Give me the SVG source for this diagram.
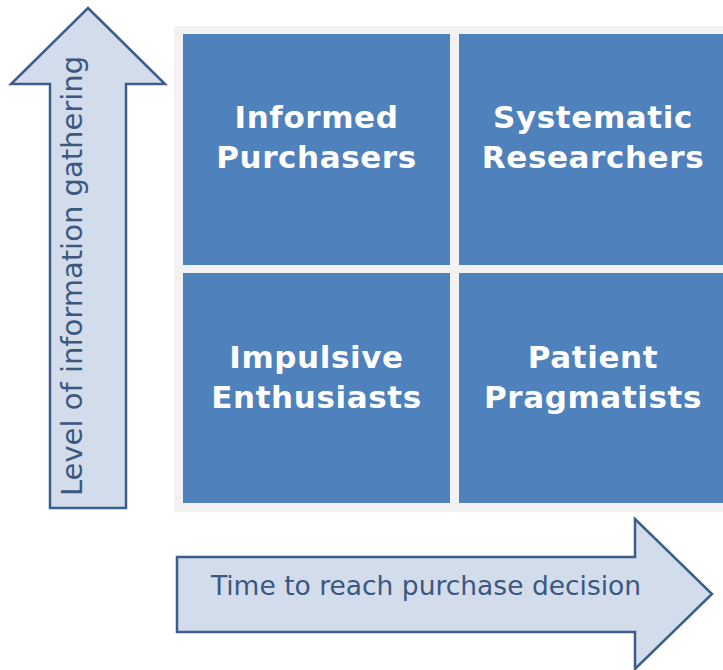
<svg xmlns="http://www.w3.org/2000/svg" width="723" height="670" viewBox="0 0 723 670">
<style>
.arrow{fill:#d3dcea;stroke:#3b5e8c;stroke-width:2.5;stroke-linejoin:miter}
.lbl{font-family:"DejaVu Sans","Liberation Sans",sans-serif;fill:#3a5880}
.cell{fill:#4f81bd}
.ct{font-family:"DejaVu Sans","Liberation Sans",sans-serif;font-weight:bold;font-size:31px;letter-spacing:0.6px;fill:#ffffff;text-anchor:middle}
</style>
<rect x="0" y="0" width="723" height="670" fill="#ffffff"/>
<rect x="174" y="26" width="560" height="486" fill="#f2f2f2"/>
<g id="informed-purchasers">
<rect class="cell" x="183" y="34" width="267" height="231"/>
<text class="ct" x="316.5" y="128">Informed</text>
<text class="ct" x="316.5" y="168">Purchasers</text>
</g>
<g id="systematic-researchers">
<rect class="cell" x="459" y="34" width="268" height="231"/>
<text class="ct" x="593" y="128">Systematic</text>
<text class="ct" x="593" y="168">Researchers</text>
</g>
<g id="impulsive-enthusiasts">
<rect class="cell" x="183" y="273" width="267" height="230"/>
<text class="ct" x="316.5" y="368">Impulsive</text>
<text class="ct" x="316.5" y="408">Enthusiasts</text>
</g>
<g id="patient-pragmatists">
<rect class="cell" x="459" y="273" width="268" height="230"/>
<text class="ct" x="593" y="368">Patient</text>
<text class="ct" x="593" y="408">Pragmatists</text>
</g>
<g id="connectors">
<g id="axis-y">
<polygon class="arrow" points="88,8 165,84 126,84 126,508 50,508 50,84 11,84"/>
<text class="lbl" font-size="29" text-anchor="middle" transform="translate(82,276) rotate(-90)">Level of information gathering</text>
</g>
<g id="axis-x">
<polygon class="arrow" points="177,557 635,557 635,519 712,594 635,669 635,632 177,632"/>
<text class="lbl" font-size="26.5" text-anchor="middle" x="426" y="595">Time to reach purchase decision</text>
</g>
</g>
</svg>
